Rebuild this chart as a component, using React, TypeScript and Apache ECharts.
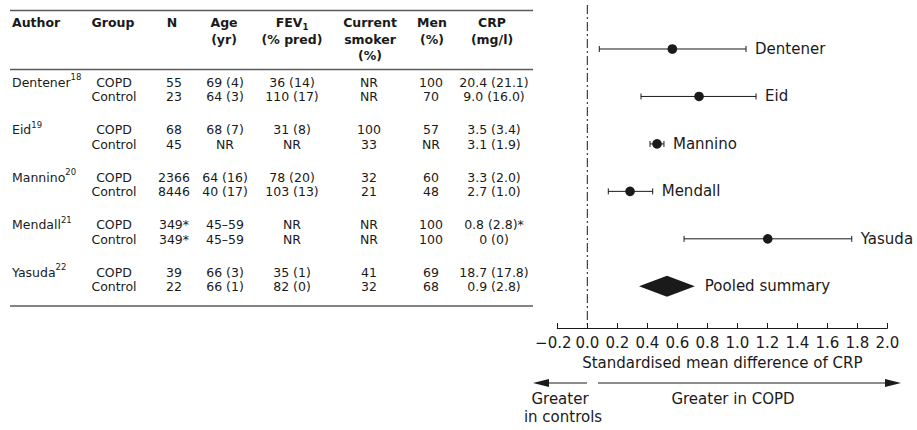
import React, { useEffect, useRef } from "react";
import * as echarts from "echarts";

// ---------- data ----------
const authors = ["Dentener", "Eid", "Mannino", "Mendall", "Yasuda"];
const authorRefs = ["18", "19", "20", "21", "22"];
const groups = ["COPD", "Control"];
const nValues = [["55", "23"], ["68", "45"], ["2366", "8446"], ["349*", "349*"], ["39", "22"]];
const ageValues = [["69 (4)", "64 (3)"], ["68 (7)", "NR"], ["64 (16)", "40 (17)"], ["45–59", "45–59"], ["66 (3)", "66 (1)"]];
const fevValues = [["36 (14)", "110 (17)"], ["31 (8)", "NR"], ["78 (20)", "103 (13)"], ["NR", "NR"], ["35 (1)", "82 (0)"]];
const smokerValues = [["NR", "NR"], ["100", "33"], ["32", "21"], ["NR", "NR"], ["41", "32"]];
const menValues = [["100", "70"], ["57", "NR"], ["60", "48"], ["100", "100"], ["69", "68"]];
const crpValues = [["20.4 (21.1)", "9.0 (16.0)"], ["3.5 (3.4)", "3.1 (1.9)"], ["3.3 (2.0)", "2.7 (1.0)"], ["0.8 (2.8)*", "0 (0)"], ["18.7 (17.8)", "0.9 (2.8)"]];

const headerAuthor = ["Author"];
const headerGroup = ["Group"];
const headerN = ["N"];
const headerAge = ["Age", "(yr)"];
const headerFev = ["FEV", "(% pred)"];
const headerFevSub = "1";
const headerSmoker = ["Current", "smoker", "(%)"];
const headerMen = ["Men", "(%)"];
const headerCrp = ["CRP", "(mg/l)"];

const studies = ["Dentener", "Eid", "Mannino", "Mendall", "Yasuda"];
const smdEstimate = [0.567, 0.745, 0.465, 0.285, 1.203];
const smdLower = [0.08, 0.358, 0.418, 0.14, 0.645];
const smdUpper = [1.058, 1.125, 0.511, 0.436, 1.763];
const pooledLabel = "Pooled summary";
const pooledEstimate = 0.531;
const pooledLower = 0.345;
const pooledUpper = 0.717;

const xMin = -0.2;
const xMax = 2.0;
const xInterval = 0.2;
const xAxisTitle = "Standardised mean difference of CRP";
const leftArrowText = ["Greater", "in controls"];
const rightArrowText = "Greater in COPD";

// ---------- styling / layout ----------
const FONT = '"DejaVu Sans", Verdana, sans-serif';
const INK = "#1a1a1a";
const RULE = "#5a5a5a";

export default function App() {
  const ref = useRef<HTMLDivElement>(null);

  useEffect(() => {
    document.body.style.margin = "0";
    if (!ref.current) return;
    const chart = echarts.init(ref.current, undefined, { renderer: "svg" });

    const graphics: any[] = [];
    const txt = (text: string, x: number, y: number, align: string, bold = false, size = 12.5) => {
      graphics.push({
        type: "text",
        x,
        y,
        style: {
          text,
          fill: INK,
          font: `${bold ? "bold " : ""}${size}px ${FONT}`,
          textAlign: align,
          align,
          textVerticalAlign: "middle",
          verticalAlign: "middle",
        },
      });
    };

    // rules
    [10.5, 69.5, 306].forEach((y) =>
      graphics.push({
        type: "line",
        shape: { x1: 10, y1: y, x2: 533, y2: y },
        style: { stroke: RULE, lineWidth: 1.5 },
      })
    );

    // header
    const hY = [22.5, 39, 55.5];
    headerAuthor.forEach((t, i) => txt(t, 12, hY[i], "left", true));
    headerGroup.forEach((t, i) => txt(t, 113, hY[i], "center", true));
    headerN.forEach((t, i) => txt(t, 172, hY[i], "center", true));
    headerAge.forEach((t, i) => txt(t, 224, hY[i], "center", true));
    headerFev.forEach((t, i) => {
      if (i === 0) {
        graphics.push({
          type: "text",
          x: 292,
          y: hY[0],
          style: {
            text: `{b|${t}}{s|${headerFevSub}}`,
            rich: {
              b: { fontFamily: FONT, fontSize: 12.5, fontWeight: "bold", lineHeight: 17, fill: INK },
              s: { fontFamily: FONT, fontSize: 8.5, fontWeight: "bold", lineHeight: 17, verticalAlign: "bottom", fill: INK },
            },
            fill: INK,
            textAlign: "center",
            align: "center",
            textVerticalAlign: "middle",
            verticalAlign: "middle",
          },
        });
      } else txt(t, 292, hY[i], "center", true);
    });
    headerSmoker.forEach((t, i) => txt(t, 370, hY[i], "center", true));
    headerMen.forEach((t, i) => txt(t, 432, hY[i], "center", true));
    headerCrp.forEach((t, i) => txt(t, 492, hY[i], "center", true));

    // body rows
    authors.forEach((a, gi) => {
      const y0 = 82 + gi * 47.5;
      graphics.push({
        type: "text",
        x: 12,
        y: y0,
        style: {
          text: `{n|${a}}{s|${authorRefs[gi]}}`,
          rich: {
            n: { fontFamily: FONT, fontSize: 12.5, lineHeight: 19, fill: INK },
            s: { fontFamily: FONT, fontSize: 8.5, lineHeight: 19, verticalAlign: "top", fill: INK },
          },
          fill: INK,
          textAlign: "left",
          align: "left",
          textVerticalAlign: "middle",
          verticalAlign: "middle",
        },
      });
      groups.forEach((g, ri) => {
        const y = y0 + ri * 14.5;
        txt(g, 114, y, "center");
        txt(nValues[gi][ri], 174, y, "center");
        txt(ageValues[gi][ri], 225, y, "center");
        txt(fevValues[gi][ri], 292, y, "center");
        txt(smokerValues[gi][ri], 369, y, "center");
        txt(menValues[gi][ri], 431, y, "center");
        txt(crpValues[gi][ri], 494, y, "center");
      });
    });

    // direction arrows
    const arrowY = 383;
    graphics.push({ type: "line", shape: { x1: 587, y1: arrowY, x2: 545, y2: arrowY }, style: { stroke: INK, lineWidth: 1.2 } });
    graphics.push({ type: "polygon", shape: { points: [[533, arrowY], [549, arrowY - 4], [549, arrowY + 4]] }, style: { fill: INK } });
    graphics.push({ type: "line", shape: { x1: 598, y1: arrowY, x2: 888, y2: arrowY }, style: { stroke: INK, lineWidth: 1.2 } });
    graphics.push({ type: "polygon", shape: { points: [[901, arrowY], [885, arrowY - 4], [885, arrowY + 4]] }, style: { fill: INK } });
    txt(leftArrowText[0], 560, 399, "center", false, 15);
    txt(leftArrowText[1], 563, 416.5, "center", false, 15);
    txt(rightArrowText, 733, 399, "center", false, 15);

    const yMin = -0.927;
    const yMax = 5.879;

    const forestData = studies.map((_, i) => [smdEstimate[i], smdLower[i], smdUpper[i], i]);
    const pooledData = [[pooledEstimate, pooledLower, pooledUpper, studies.length]];

    chart.setOption({
      animation: false,
      textStyle: { fontFamily: FONT },
      grid: { left: 557.3, right: 29.7, top: 5, bottom: 102 },
      xAxis: {
        type: "value",
        min: xMin,
        max: xMax,
        interval: xInterval,
        splitLine: { show: false },
        axisLine: { show: true, onZero: false, lineStyle: { color: INK, width: 1 } },
        axisTick: { show: true, inside: true, length: 5, lineStyle: { color: INK, width: 1 } },
        axisLabel: {
          color: INK,
          fontFamily: FONT,
          fontSize: 15,
          margin: 7,
          formatter: (v: number) => {
            if (Math.abs(v) < 1e-9) return "0.0";
            const s = v.toFixed(1).replace("-", "−");
            return v < 0 ? `{neg|${s}}` : s;
          },
          rich: {
            neg: { color: INK, fontFamily: FONT, fontSize: 15, padding: [0, 8, 0, 0] },
          },
        },
        name: xAxisTitle,
        nameLocation: "middle",
        nameGap: 27,
        nameTextStyle: { color: INK, fontFamily: FONT, fontSize: 15 },
      },
      yAxis: { type: "value", inverse: true, min: yMin, max: yMax, show: false },
      series: [
        {
          type: "line",
          data: [[0, yMin], [0, yMax]],
          symbol: "none",
          silent: true,
          lineStyle: { color: INK, width: 1, type: [9, 3, 2, 3] },
        },
        {
          type: "custom",
          data: forestData,
          encode: { x: [0, 1, 2], y: 3 },
          renderItem: (params: any, api: any) => {
            const row = api.value(3);
            const pE = api.coord([api.value(0), row]);
            const pL = api.coord([api.value(1), row]);
            const pH = api.coord([api.value(2), row]);
            const y = pE[1];
            return {
              type: "group",
              children: [
                { type: "line", shape: { x1: pL[0], y1: y, x2: pH[0], y2: y }, style: { stroke: INK, lineWidth: 1 } },
                { type: "line", shape: { x1: pL[0], y1: y - 3, x2: pL[0], y2: y + 3 }, style: { stroke: INK, lineWidth: 1 } },
                { type: "line", shape: { x1: pH[0], y1: y - 3, x2: pH[0], y2: y + 3 }, style: { stroke: INK, lineWidth: 1 } },
                { type: "circle", shape: { cx: pE[0], cy: y, r: 4.8 }, style: { fill: INK } },
                {
                  type: "text",
                  x: pH[0] + 9,
                  y,
                  style: {
                    text: studies[params.dataIndex],
                    fill: INK,
                    font: `15px ${FONT}`,
                    textAlign: "left",
                    align: "left",
                    textVerticalAlign: "middle",
                    verticalAlign: "middle",
                  },
                },
              ],
            };
          },
        },
        {
          type: "custom",
          data: pooledData,
          encode: { x: [0, 1, 2], y: 3 },
          renderItem: (params: any, api: any) => {
            const row = api.value(3);
            const pE = api.coord([api.value(0), row]);
            const pL = api.coord([api.value(1), row]);
            const pH = api.coord([api.value(2), row]);
            const y = pE[1];
            return {
              type: "group",
              children: [
                {
                  type: "polygon",
                  shape: { points: [[pL[0], y], [pE[0], y - 10.5], [pH[0], y], [pE[0], y + 10.5]] },
                  style: { fill: INK },
                },
                {
                  type: "text",
                  x: pH[0] + 10,
                  y,
                  style: {
                    text: pooledLabel,
                    fill: INK,
                    font: `15px ${FONT}`,
                    textAlign: "left",
                    align: "left",
                    textVerticalAlign: "middle",
                    verticalAlign: "middle",
                  },
                },
              ],
            };
          },
        },
      ],
      graphic: graphics,
    });

    return () => chart.dispose();
  }, []);

  return <div ref={ref} style={{ width: 917, height: 430, background: "#fff" }} />;
}
